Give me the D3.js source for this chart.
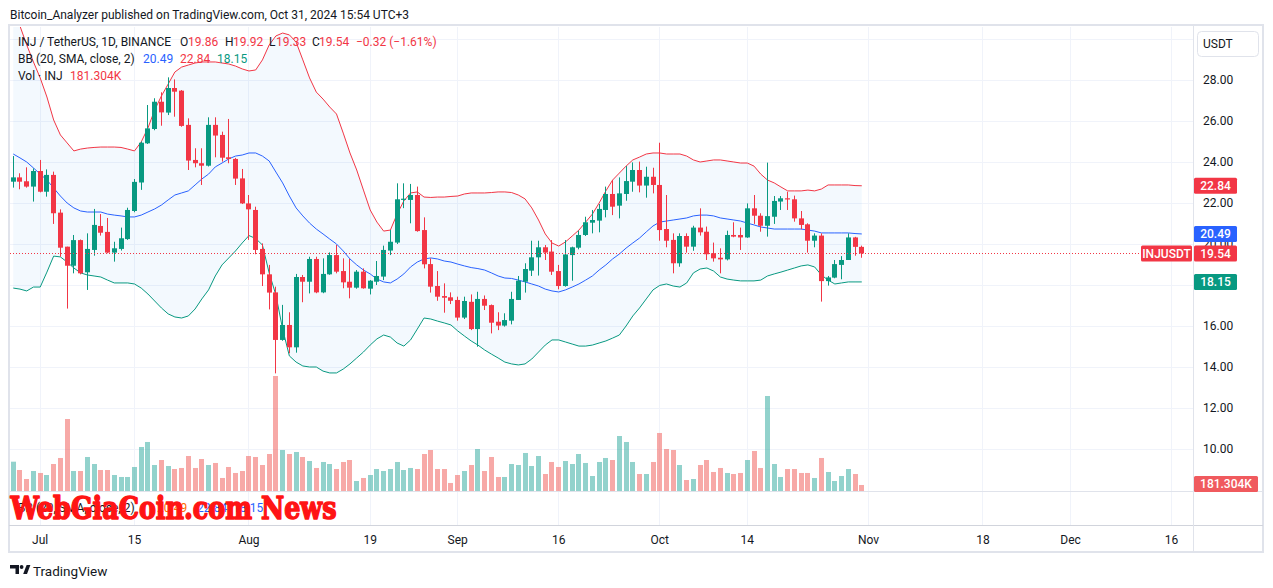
<!DOCTYPE html>
<html><head><meta charset="utf-8">
<script src="https://cdn.jsdelivr.net/npm/d3@7/dist/d3.min.js"></script>
<style>
body{margin:0;background:#fff;}
svg{display:block;font-family:Roboto,"Noto Sans",sans-serif;}
</style>
</head><body>
<svg id="c" width="1273" height="588"></svg>
<script>
// ---------- DATA (INJ / TetherUS, 1D, Jun 27 – Oct 31 2024) ----------
const firstDay = "2024-06-27";
const lastDayExclusive = "2024-11-01";
const open = [23.04,23.25,23.06,22.80,
 23.56,22.55,23.37,21.53,19.87,18.94,20.19,18.62,19.71,20.88,20.59,19.58,19.76,20.24,21.61,23.00,24.91,25.61,26.94,26.41,27.61,27.48,25.81,24.10,23.94,23.82,25.81,25.32,24.23,24.15,23.20,
 21.98,21.66,19.76,18.52,17.64,15.32,16.05,14.96,18.39,18.16,19.27,17.64,18.52,19.46,18.68,18.16,17.87,18.65,17.82,18.16,18.41,19.68,20.07,22.18,22.15,22.39,20.68,19.02,17.95,17.46,17.40,
 17.27,16.41,17.18,15.85,17.32,17.02,16.21,16.02,16.26,17.27,18.16,18.70,19.35,19.84,19.63,18.68,17.95,19.46,19.82,20.44,21.04,21.14,21.66,22.44,21.87,22.44,23.04,23.61,22.85,23.28,
 22.88,20.73,20.20,19.06,20.39,19.87,20.80,20.60,19.55,19.33,19.25,20.44,20.44,20.32,21.74,21.38,20.89,21.33,22.07,22.23,22.18,21.25,20.96,20.16,20.41,18.19,18.36,18.98,19.22,20.32,19.86];
const high = [24.29,23.45,23.74,23.69,
 24.10,23.64,23.53,21.69,19.87,20.44,20.22,20.52,21.71,21.46,21.27,20.11,20.80,21.77,23.17,25.00,26.78,27.11,27.40,28.13,28.03,27.51,26.13,24.67,24.67,26.18,26.18,25.48,26.10,24.20,23.66,
 22.39,21.82,20.03,18.98,17.92,17.03,16.67,18.54,18.49,19.38,19.38,19.30,19.59,19.95,19.30,19.27,18.73,18.81,18.24,19.17,19.92,20.68,22.96,22.96,22.93,22.80,21.30,19.30,18.68,18.08,17.64,
 17.43,17.43,17.54,17.67,17.49,17.05,16.67,16.62,17.67,18.44,19.06,20.16,20.16,19.95,20.19,18.98,20.19,19.87,20.65,21.33,21.66,21.95,22.80,23.12,23.25,23.80,23.98,24.02,23.77,23.72,
 24.94,22.39,20.52,20.52,20.52,20.89,21.74,20.85,20.07,19.79,20.65,21.06,20.80,21.98,22.39,21.50,23.97,22.34,22.34,22.55,22.36,21.61,21.01,20.52,20.52,18.44,19.22,19.41,20.52,20.35,19.92];
const low = [22.75,22.67,22.75,22.07,
 22.52,22.31,20.98,19.38,16.85,18.57,18.52,17.76,19.43,20.41,19.55,19.14,19.68,20.20,21.55,22.64,24.88,25.55,25.77,26.29,26.21,25.72,23.61,23.74,22.88,23.78,24.23,24.02,23.94,22.88,21.95,
 20.20,19.50,17.95,16.81,13.69,15.28,14.67,14.70,17.16,17.59,17.60,17.60,18.50,18.57,17.84,17.35,17.82,17.82,17.54,18.00,18.24,19.46,20.00,21.75,21.01,20.60,18.81,17.63,17.23,16.65,17.07,
 16.26,16.34,15.80,14.99,16.78,15.64,15.80,15.97,16.08,17.27,17.63,18.44,18.46,19.22,18.49,17.79,17.92,18.21,19.74,20.39,20.52,20.57,21.30,21.41,21.25,22.11,22.55,22.52,22.26,22.47,
 20.16,19.84,18.57,18.89,19.58,19.67,20.41,19.22,19.14,18.57,19.20,20.33,19.71,20.30,20.98,20.60,20.36,20.98,21.66,21.66,21.09,20.72,19.58,19.84,17.19,17.97,18.33,18.28,19.22,19.43,19.33];
const close = [23.25,23.04,22.80,23.56,
 22.55,23.37,21.50,19.82,18.94,20.19,18.57,19.76,20.93,20.55,19.58,19.79,20.28,21.66,23.03,24.94,25.64,26.94,26.42,27.61,27.43,25.76,24.07,23.94,23.82,25.81,25.29,24.21,24.15,23.19,21.98,
 21.69,19.71,18.52,17.63,15.32,16.05,14.96,18.39,18.16,19.27,17.64,18.54,19.46,18.65,18.13,17.87,18.65,17.84,18.21,18.44,19.71,20.11,22.18,22.21,22.39,20.63,19.01,17.92,17.43,17.38,17.23,
 16.41,17.22,15.85,17.32,16.99,16.16,16.02,16.29,17.32,18.21,18.78,19.35,19.84,19.58,18.65,17.95,19.49,19.84,20.44,21.06,21.17,21.71,22.44,21.82,22.47,23.07,23.61,22.85,23.28,22.88,
 20.68,20.16,19.06,20.39,19.87,20.80,20.57,19.50,19.30,19.25,20.44,20.36,20.32,21.74,21.38,20.89,21.36,22.10,22.23,22.18,21.25,20.93,20.16,20.41,18.19,18.37,19.02,19.22,20.32,19.86,19.54];
// volume, thousands of INJ
const volume = [885,634,362,604,
 544,483,815,997,2174,604,604,1027,815,634,634,483,423,423,725,1329,1480,785,936,755,664,695,1057,695,966,785,846,393,725,544,604,
 1057,1027,785,1117,3473,1238,1117,1178,1027,906,695,876,815,664,876,936,302,393,483,664,604,664,876,634,695,664,1117,1238,664,664,242,
 483,604,785,1268,604,1027,423,423,815,785,1148,755,1057,513,876,725,906,815,1117,846,453,876,997,936,1661,1480,876,513,513,876,
 1752,1268,1238,785,332,362,785,936,574,695,544,513,544,936,1208,695,2869,815,423,664,664,544,544,393,997,574,302,453,664,513,181.304];
// Bollinger Bands (20, SMA, close, 2) as shown
const bbUpper = [31.30,30.63,29.71,28.88,
 28.10,27.17,26.05,25.32,24.93,24.54,24.63,24.68,24.71,24.73,24.73,24.73,24.71,24.63,24.54,24.98,25.66,26.54,27.22,27.80,28.39,28.63,28.73,28.83,28.88,28.88,28.88,28.83,28.78,28.68,28.54,
 28.44,28.49,28.98,29.71,30.15,30.29,30.20,29.85,28.98,28.10,27.41,27.07,26.68,26.34,25.41,24.44,23.61,22.63,21.66,21.07,20.63,20.68,21.46,22.10,22.49,22.54,22.29,22.27,22.29,22.29,22.32,
 22.34,22.44,22.49,22.49,22.49,22.51,22.54,22.54,22.51,22.39,22.20,21.76,21.17,20.49,20.05,19.90,20.10,20.39,20.68,21.07,21.46,22.00,22.59,23.12,23.46,23.80,24.10,24.24,24.39,24.44,
 24.44,24.39,24.39,24.39,24.29,24.10,24.00,24.05,24.10,24.10,24.05,24.00,23.95,23.95,23.80,23.41,23.12,22.98,22.78,22.59,22.59,22.59,22.63,22.59,22.68,22.88,22.88,22.88,22.88,22.85,22.84];
const bbBasis = [24.39,24.20,24.00,23.71,
 23.41,23.12,22.73,22.34,22.00,21.76,21.61,21.56,21.56,21.56,21.46,21.41,21.37,21.32,21.32,21.41,21.56,21.71,21.90,22.15,22.39,22.49,22.59,22.88,23.17,23.41,23.76,23.95,24.15,24.29,24.34,
 24.44,24.44,24.29,24.05,23.51,22.98,22.34,21.76,21.37,21.02,20.73,20.49,20.24,20.00,19.66,19.27,18.98,18.73,18.54,18.29,18.15,18.10,18.29,18.54,18.88,19.12,19.27,19.32,19.27,19.17,19.12,
 19.02,18.93,18.85,18.80,18.73,18.59,18.44,18.34,18.32,18.24,18.15,18.05,17.95,17.80,17.71,17.66,17.76,17.90,18.05,18.24,18.44,18.73,18.98,19.27,19.51,19.80,20.05,20.29,20.59,20.88,
 21.07,21.12,21.17,21.22,21.27,21.37,21.41,21.41,21.37,21.27,21.22,21.17,21.12,21.02,20.93,20.83,20.78,20.73,20.73,20.73,20.73,20.73,20.68,20.63,20.54,20.54,20.54,20.54,20.54,20.51,20.49];
const bbLower = [17.85,17.80,17.71,17.90,
 17.90,18.63,19.41,19.37,19.12,18.83,18.59,18.49,18.44,18.39,18.24,18.10,18.10,18.10,18.05,17.85,17.56,17.22,16.88,16.59,16.44,16.39,16.49,16.83,17.32,17.76,18.44,18.98,19.32,19.66,20.05,
 20.41,20.27,19.95,18.59,17.51,15.85,14.54,14.24,14.05,14.00,14.00,13.80,13.71,13.71,13.90,14.15,14.44,14.73,15.07,15.37,15.56,15.46,15.17,15.02,15.32,15.85,16.39,16.34,16.24,16.15,16.05,
 15.76,15.51,15.27,15.07,14.83,14.63,14.44,14.24,14.15,14.10,14.15,14.39,14.73,15.07,15.32,15.32,15.22,15.12,15.02,15.02,15.07,15.17,15.27,15.41,15.56,16.00,16.49,16.88,17.32,17.76,
 17.98,18.05,17.95,17.90,18.10,18.59,18.78,18.83,18.68,18.39,18.29,18.24,18.20,18.20,18.20,18.24,18.44,18.54,18.63,18.73,18.83,18.93,18.98,18.88,18.49,18.24,18.05,18.10,18.15,18.15,18.15];
const priceTicks = [10,12,14,16,18,20,22,24,26,28,30];
const timeTickDates = ["2024-07-01","2024-07-15","2024-08-01","2024-08-19","2024-09-01","2024-09-16","2024-10-01","2024-10-14","2024-11-01","2024-11-18","2024-12-01","2024-12-16"];
const timeTickLabels = ["Jul","15","Aug","19","Sep","16","Oct","14","Nov","18","Dec","16"];

// ---------- LAYOUT ----------
const svg = d3.select("#c");
const L = 10, R = 1193, T = 27, B = 491;
const UP = "#089981", DN = "#f23645";
const dates = d3.utcDay.range(new Date(firstDay + "T00:00:00Z"), new Date(lastDayExclusive + "T00:00:00Z"));
const bars = dates.map((d,i)=>({d, o:open[i], h:high[i], l:low[i], c:close[i], v:volume[i], u:bbUpper[i], m:bbBasis[i], lo:bbLower[i]}));

const x = d3.scaleUtc().domain([new Date("2024-07-01T00:00:00Z"), new Date("2024-11-01T00:00:00Z")]).range([39.7, 868]);
const y = d3.scaleLinear().domain([10, 28]).range([449, 80]);
const yVol = d3.scaleLinear().domain([0, d3.max(volume)]).range([B, 376]);

svg.append("rect").attr("width",1273).attr("height",588).attr("fill","#fff");

// publisher header
svg.append("text").attr("x",10).attr("y",18.5).attr("font-size",12).attr("fill","#131722")
  .text("Bitcoin_Analyzer published on TradingView.com, Oct 31, 2024 15:54 UTC+3");

const defs = svg.append("defs");
defs.append("clipPath").attr("id","pane").append("rect").attr("x",L).attr("y",T).attr("width",R-L).attr("height",B-T);

// grid
const grid = svg.append("g");
grid.selectAll(".hg").data(priceTicks).join("line")
  .attr("x1",L).attr("x2",R).attr("y1",d=>Math.round(y(d))+0.5).attr("y2",d=>Math.round(y(d))+0.5)
  .attr("stroke","#f0f3fa");
const tickDates = timeTickDates.map(s=>new Date(s+"T00:00:00Z"));
grid.selectAll(".vg").data(tickDates).join("line")
  .attr("x1",d=>Math.round(x(d))+0.5).attr("x2",d=>Math.round(x(d))+0.5).attr("y1",T).attr("y2",525)
  .attr("stroke","#f0f3fa");

const pane = svg.append("g").attr("clip-path","url(#pane)");
const cx = d => Math.round(x(d));

// BB fill
pane.append("path").datum(bars)
  .attr("d", d3.area().x(b=>x(b.d)+0.5).y0(b=>y(b.lo)).y1(b=>y(b.u)))
  .attr("fill","rgba(33,150,243,0.055)");

// volume
pane.selectAll(".vol").data(bars).join("rect")
  .attr("x",b=>cx(b.d)-2).attr("width",5)
  .attr("y",b=>yVol(b.v)).attr("height",b=>B-yVol(b.v))
  .attr("fill",b=>b.c>=b.o?"#26a69a":"#ef5350").attr("fill-opacity",0.5);

// BB lines
const line = key => d3.line().x(b=>x(b.d)+0.5).y(b=>y(b[key]));
pane.append("path").datum(bars).attr("d",line("u")).attr("fill","none").attr("stroke","#f23645").attr("stroke-width",1);
pane.append("path").datum(bars).attr("d",line("m")).attr("fill","none").attr("stroke","#2962ff").attr("stroke-width",1);
pane.append("path").datum(bars).attr("d",line("lo")).attr("fill","none").attr("stroke","#089981").attr("stroke-width",1);

// candles
const cg = pane.selectAll(".cdl").data(bars).join("g");
cg.append("rect").attr("x",b=>cx(b.d)).attr("width",1)
  .attr("y",b=>y(b.h)).attr("height",b=>Math.max(1,y(b.l)-y(b.h)))
  .attr("fill",b=>b.c>=b.o?UP:DN);
cg.append("rect").attr("x",b=>cx(b.d)-2).attr("width",5)
  .attr("y",b=>y(Math.max(b.o,b.c))).attr("height",b=>Math.max(1.2,Math.abs(y(b.o)-y(b.c))))
  .attr("fill",b=>b.c>=b.o?UP:DN);

// last price dotted line
const lastClose = close[close.length-1];
svg.append("line").attr("x1",L).attr("x2",1141).attr("y1",Math.round(y(lastClose))+0.5).attr("y2",Math.round(y(lastClose))+0.5)
  .attr("stroke",DN).attr("stroke-dasharray","1,2");

// frame & separators
svg.append("rect").attr("x",9).attr("y",25).attr("width",1254).attr("height",527)
  .attr("fill","none").attr("stroke","#e0e3eb").attr("stroke-width",2);
svg.append("line").attr("x1",9).attr("x2",1263).attr("y1",491.5).attr("y2",491.5).attr("stroke","#e0e3eb");
svg.append("line").attr("x1",9).attr("x2",1263).attr("y1",525.5).attr("y2",525.5).attr("stroke","#d1d4dc");
svg.append("line").attr("x1",1193.5).attr("x2",1193.5).attr("y1",26).attr("y2",552).attr("stroke","#e0e3eb");

// price axis
const ya = svg.append("g").attr("transform",`translate(${R},0)`)
  .call(d3.axisRight(y).tickValues(priceTicks.filter(t=>t<30)).tickFormat(d3.format(".2f")).tickSize(0).tickPadding(10));
ya.select(".domain").remove();
ya.selectAll("text").attr("font-family","Roboto, sans-serif").attr("font-size",12).attr("fill","#131722");

// time axis
const xa = svg.append("g").attr("transform","translate(0,526)")
  .call(d3.axisBottom(x).tickValues(tickDates).tickFormat((d,i)=>timeTickLabels[i]).tickSize(0).tickPadding(9));
xa.select(".domain").remove();
xa.selectAll("text").attr("font-family","Roboto, sans-serif").attr("font-size",12).attr("fill","#131722");

// USDT box
svg.append("rect").attr("x",1197.5).attr("y",31.5).attr("width",61).attr("height",25).attr("rx",4)
  .attr("fill","#fff").attr("stroke","#e0e3eb");
svg.append("text").attr("x",1203).attr("y",48).attr("font-size",12).attr("fill","#131722").text("USDT");

// right-side value labels
function tag(xp, w, yc, fill, txt){
  svg.append("rect").attr("x",xp).attr("y",yc-8).attr("width",w).attr("height",16).attr("rx",1.5).attr("fill",fill);
  svg.append("text").attr("x",xp+w/2).attr("y",yc+4.3).attr("text-anchor","middle")
    .attr("font-size",12).attr("font-weight",500).attr("fill","#fff").text(txt);
}
const n = bars.length-1;
tag(1194, 43, y(bbUpper[n]), "#f23645", bbUpper[n].toFixed(2));
tag(1194, 43, y(bbBasis[n]), "#2962ff", bbBasis[n].toFixed(2));
tag(1194, 43, y(lastClose), "#f23645", lastClose.toFixed(2));
tag(1141, 51, y(lastClose), "#f23645", "INJUSDT");
tag(1194, 43, y(bbLower[n]), "#089981", bbLower[n].toFixed(2));
tag(1194, 64, 484, "#f05a5e", "181.304K");

// legend
const leg = svg.append("g").attr("font-size",12);
function seg(xp, yp, txt, col){ leg.append("text").attr("x",xp).attr("y",yp).attr("fill",col).text(txt); }
seg(18,46,"INJ / TetherUS, 1D, BINANCE","#131722");
seg(180,46,"O","#131722"); seg(188,46,open[n].toFixed(2),DN);
seg(225,46,"H","#131722"); seg(233,46,high[n].toFixed(2),DN);
seg(269,46,"L","#131722"); seg(276,46,low[n].toFixed(2),DN);
seg(312,46,"C","#131722"); seg(319,46,close[n].toFixed(2),DN);
seg(356,46,"\u22120.32 (\u22121.61%)",DN);
seg(18,63,"BB (20, SMA, close, 2)","#131722");
seg(143,63,bbBasis[n].toFixed(2),"#2962ff");
seg(180,63,bbUpper[n].toFixed(2),DN);
seg(217,63,bbLower[n].toFixed(2),"#089981");
seg(18,79.5,"Vol \u00b7 INJ","#131722");
seg(70,79.5,"181.304K",DN);

// lower pane legend (partly covered by the watermark, as in the original)
seg(18,512,"BB (20, SMA, close, 2)","#131722");
seg(157,512,"20.49","#ff6d00");
seg(197,512,"22.84","#2962ff");
seg(233,512,"18.15","#2962ff");

// watermark
svg.append("text").attr("x",10.5).attr("y",518.5).attr("font-family","'DejaVu Serif', serif").attr("font-weight","bold")
  .attr("font-size",31).attr("fill","#ff1414").attr("stroke","#ff1414").attr("stroke-width",1.6).attr("stroke-linejoin","round")
  .attr("textLength",326).attr("lengthAdjust","spacingAndGlyphs")
  .text("WebGiaCoin.com News");

// footer logo
const lg = svg.append("g").attr("fill","#131722");
lg.append("path").attr("d","M10,565 H19 V574 H15.5 V568.5 H10 Z");
lg.append("circle").attr("cx",21.6).attr("cy",567).attr("r",1.9);
lg.append("path").attr("d","M23.2,574 L26.6,565 H30.4 L27,574 Z");
svg.append("text").attr("x",33).attr("y",575.5).attr("font-size",13.5).attr("fill","#131722").text("TradingView");
</script>
</body></html>
